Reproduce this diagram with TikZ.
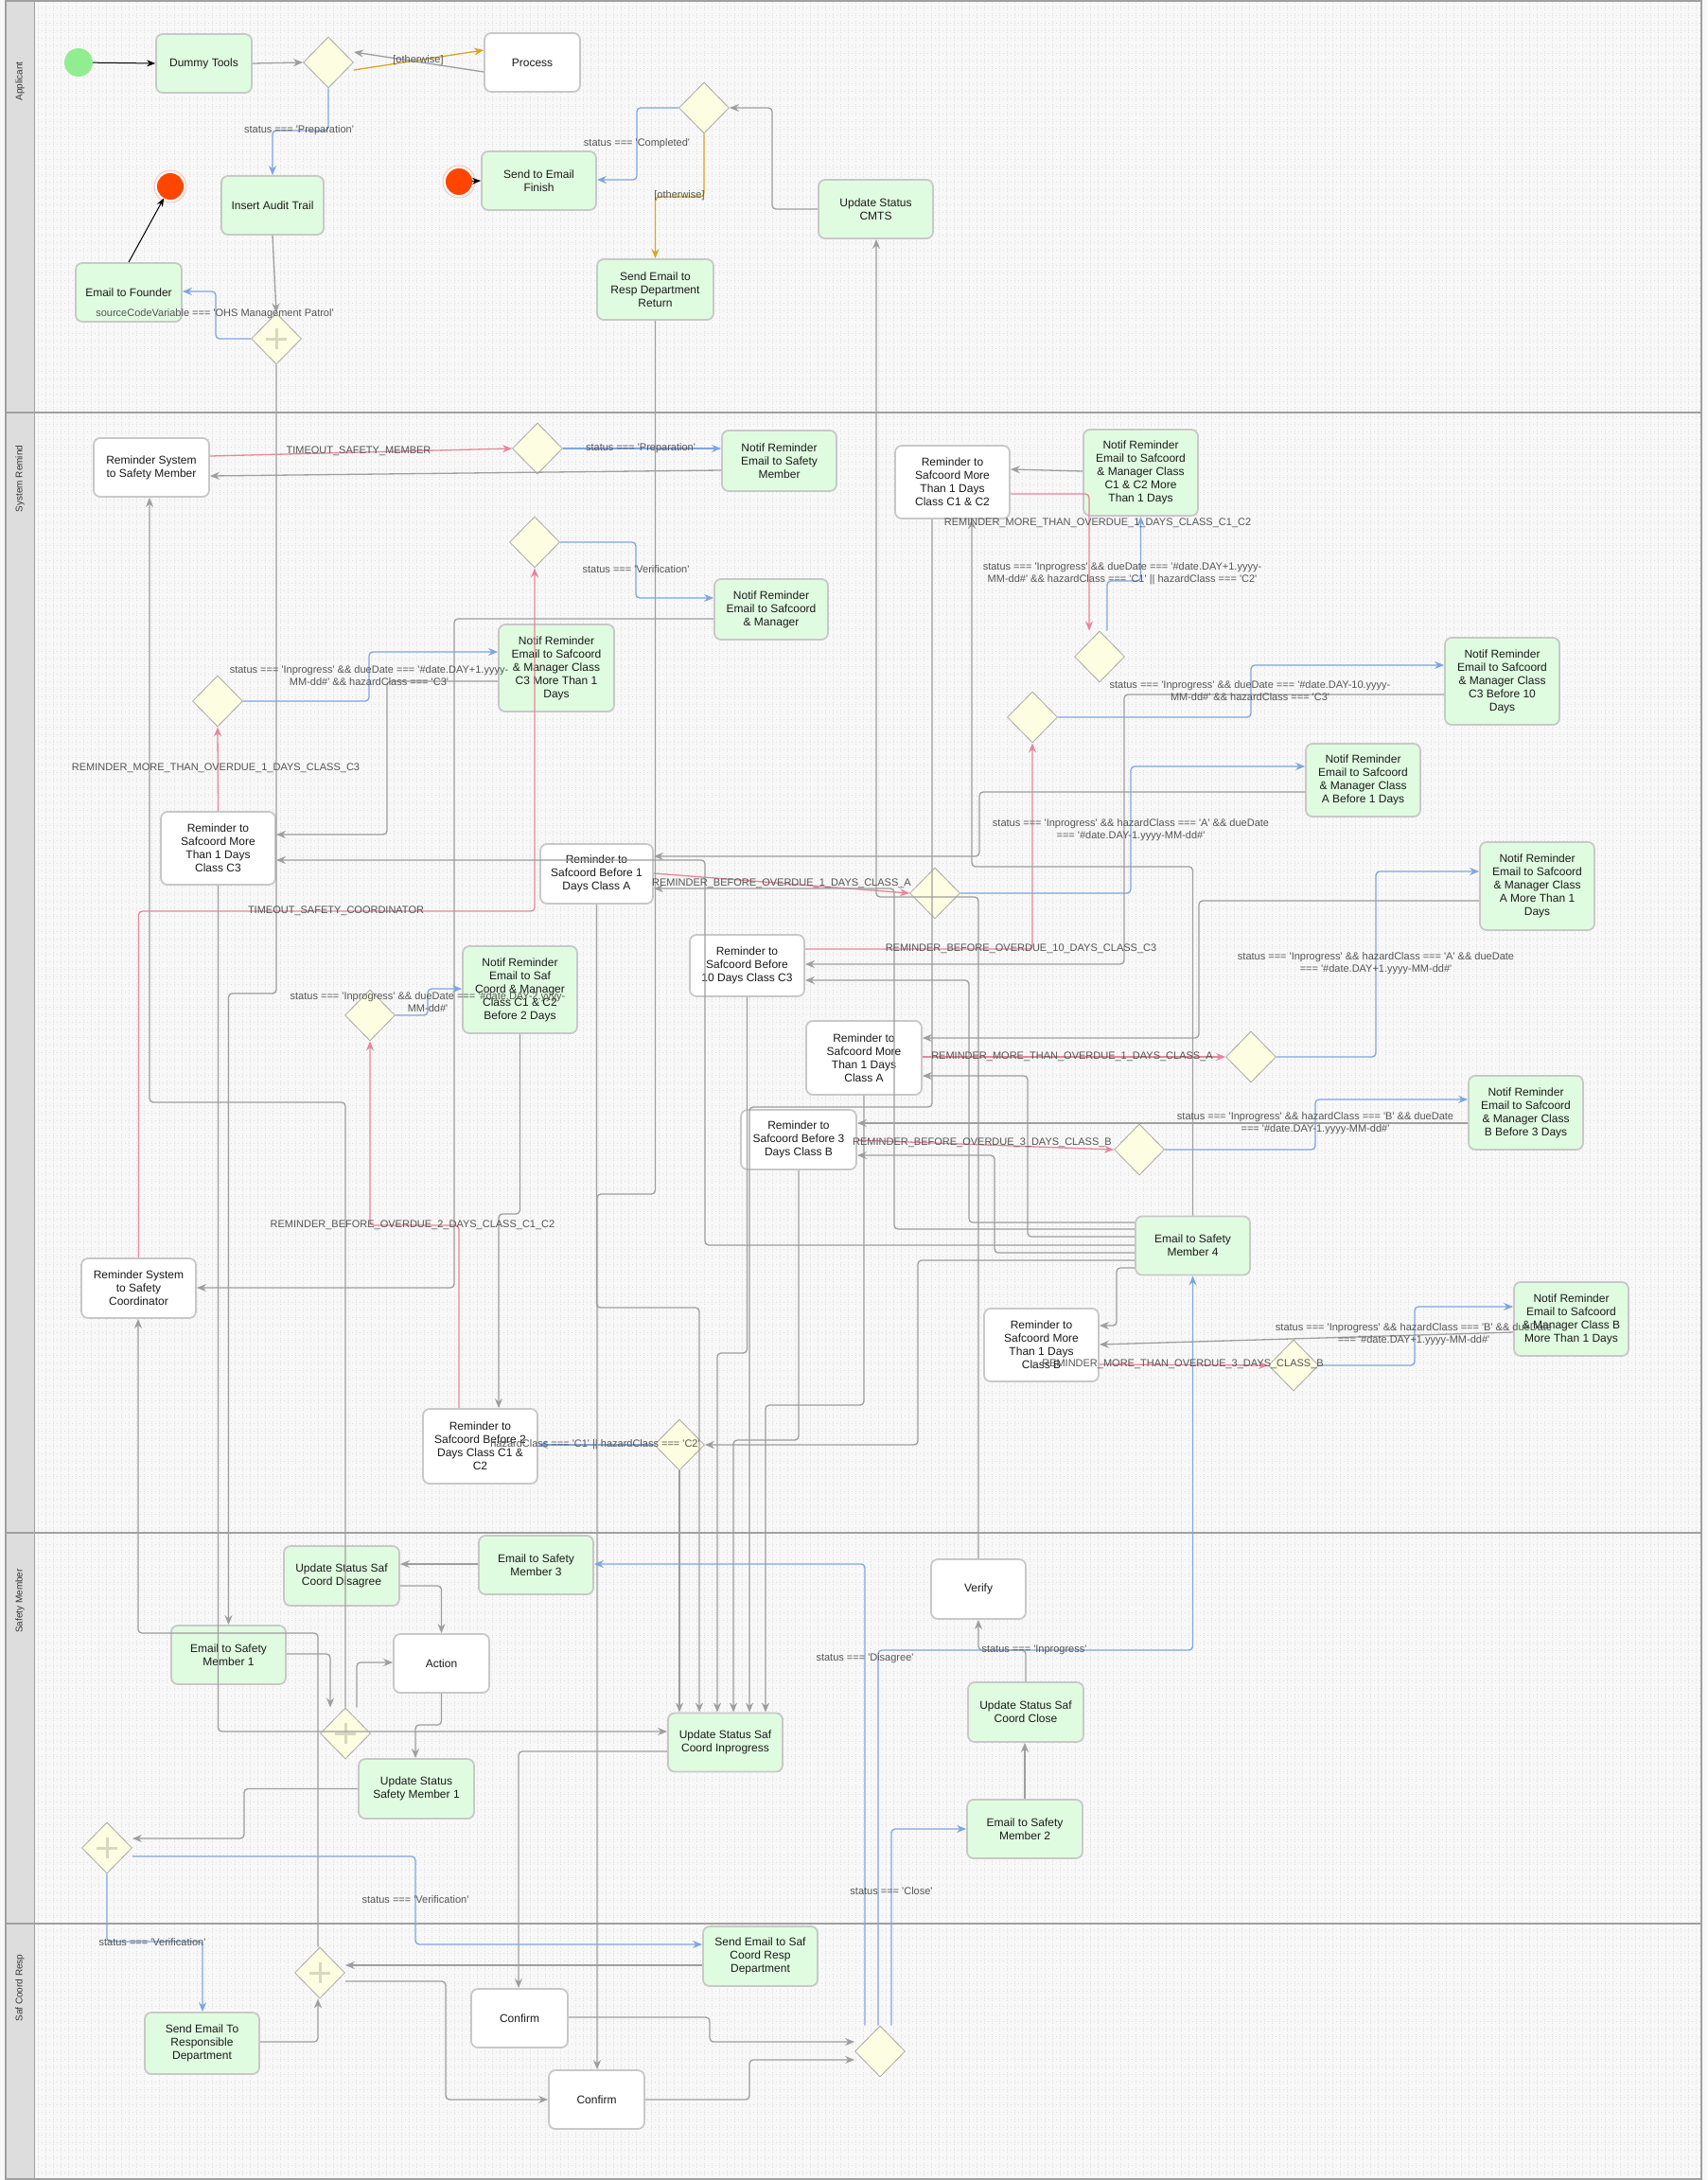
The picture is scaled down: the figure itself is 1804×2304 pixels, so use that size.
\documentclass[tikz,border=0pt]{standalone}
\usepackage{fontspec}
\setmainfont{Liberation Sans}[Ligatures=TeXOff]
\usetikzlibrary{shapes.geometric,arrows.meta}
\definecolor{bgc}{HTML}{F8F8F8}
\definecolor{gridc}{HTML}{DEDEDE}
\definecolor{hdr}{HTML}{DDDDDD}
\definecolor{lanec}{HTML}{A0A0A0}
\definecolor{greenf}{HTML}{E0FCE0}
\definecolor{bordc}{HTML}{C8C8C8}
\definecolor{yel}{HTML}{FDFDE1}
\definecolor{dbord}{HTML}{A8A8A8}
\definecolor{edgeg}{HTML}{9E9E9E}
\definecolor{blu}{HTML}{7EA6E0}
\definecolor{pnk}{HTML}{E8859A}
\definecolor{org}{HTML}{D9A520}
\definecolor{txt}{HTML}{1A1A1A}
\definecolor{lblc}{HTML}{555555}
\definecolor{startc}{HTML}{90EE90}
\definecolor{endc}{HTML}{FF4500}
\definecolor{ringc}{HTML}{F8C0B0}
\definecolor{plusc}{HTML}{D8D8C0}
\tikzset{
  box/.style={draw=bordc, line width=1.8pt, rounded corners=7pt, align=center,
    font=\fontsize{12pt}{14pt}\selectfont, text=txt, inner sep=2pt,
    minimum width=121pt, minimum height=62pt},
  gbox/.style={box, fill=greenf},
  wbox/.style={box, fill=white},
  gw/.style={diamond, draw=dbord, line width=0.8pt, fill=yel, minimum width=53pt,
    minimum height=54pt, inner sep=0pt},
  ge/.style={draw=edgeg, line width=1.3pt, rounded corners=4pt,
    -{Stealth[length=10pt,width=8pt]}},
  bl/.style={ge, draw=blu},
  pk/.style={ge, draw=pnk},
  oe/.style={ge, draw=org},
  be/.style={draw=black, line width=1pt, -{Stealth[length=9pt,width=7pt]}},
  lbl/.style={font=\fontsize{11pt}{13pt}\selectfont, text=lblc, align=center, inner sep=0pt},
  lane/.style={font=\fontsize{10pt}{12pt}\selectfont, text=black!80, rotate=90},
  endev/.style={circle, fill=endc, minimum size=28pt, inner sep=0pt},
}
\begin{document}
\begin{tikzpicture}[x=1pt,y=-1pt]
\useasboundingbox (0,0) rectangle (1804,2304);
\fill[bgc] (0,0) rectangle (1804,2304);
\draw[gridc, line width=0.6pt, dash pattern=on 0.6pt off 3.4pt, step=8pt] (36,1) grid (1798,2303);
% lanes
\fill[hdr] (6,1) rectangle (36,2303);
\draw[lanec, line width=1.5pt] (6,1) rectangle (1798,2303);
\draw[lanec, line width=1.5pt] (6,436) -- (1798,436);
\draw[lanec, line width=1.5pt] (6,1620) -- (1798,1620);
\draw[lanec, line width=1.5pt] (6,2033) -- (1798,2033);
\draw[lanec, line width=1pt] (36,1) -- (36,2303);
\node[lane] (laneA) at (21,86) {Applicant};
\node[lane] (laneB) at (21,506) {System Remind};
\node[lane] (laneC) at (21,1692) {Safety Member};
\node[lane] (laneD) at (21,2101) {Saf Coord Resp};

% ---------- Applicant ----------
\node[circle, fill=startc, minimum size=30pt, inner sep=0pt] (start) at (83,66) {};
\node[gbox, minimum width=101pt] (dummy) at (215.5,67) {Dummy Tools};
\node[gw] (gA1) at (347,66) {};
\node[wbox, minimum width=101pt] (process) at (562.5,66) {Process};
\node[gbox, minimum width=108pt] (audit) at (288,217) {Insert Audit Trail};
\node[endev] (endA) at (180,197) {};
\draw[ringc, line width=0.8pt] (endA) circle (17);
\node[gbox, minimum width=112pt] (founder) at (136,309) {Email to Founder};
\node[gw] (pgA) at (292,358) {};
\draw[plusc, line width=3pt] (pgA.center) ++(-11,0) -- ++(22,0) (pgA.center) ++(0,-11) -- ++(0,22);
\node[gbox] (finish) at (569.5,191) {Send to Email\\Finish};
\node[endev] (endB) at (485,192) {};
\draw[ringc, line width=0.8pt] (endB) circle (17);
\node[gw] (gA2) at (744,114) {};
\node[gbox, minimum width=123pt, minimum height=64pt] (respret) at (692.5,306) {Send Email to\\Resp Department\\Return};
\node[gbox] (cmts) at (925.5,221) {Update Status\\CMTS};

% ---------- System Remind ----------
\node[wbox, minimum width=122pt] (rsSM) at (160,494) {Reminder System\\to Safety Member};
\node[gw] (gSM) at (568,474) {};
\node[gbox, minimum height=64pt] (nSM) at (823.5,487) {Notif Reminder\\Email to Safety\\Member};
\node[gw] (gV) at (565,573) {};
\node[gbox, minimum width=120pt, minimum height=64pt] (nSCM) at (815,644) {Notif Reminder\\Email to Safcoord\\\& Manager};
\node[gw] (gC3) at (230,741) {};
\node[gbox, minimum width=122pt, minimum height=92pt] (nC3) at (588,706) {Notif Reminder\\Email to Safcoord\\\& Manager Class\\C3 More Than 1\\Days};
\node[wbox, minimum height=77pt] (rC3) at (230.5,896.5) {Reminder to\\Safcoord More\\Than 1 Days\\Class C3};
\node[wbox, minimum height=63pt] (rsSC) at (146.5,1361.5) {Reminder System\\to Safety\\Coordinator};
\node[wbox, minimum height=77pt] (rC12) at (1006.5,509.5) {Reminder to\\Safcoord More\\Than 1 Days\\Class C1 \& C2};
\node[gbox, minimum height=91pt] (nC12) at (1205.5,499.5) {Notif Reminder\\Email to Safcoord\\\& Manager Class\\C1 \& C2 More\\Than 1 Days};
\node[gw] (gC12) at (1162,694) {};
\node[gw] (g10) at (1091,758) {};
\node[gbox, minimum height=92pt] (n10) at (1587.5,720) {Notif Reminder\\Email to Safcoord\\\& Manager Class\\C3 Before 10\\Days};
\node[gbox, minimum height=77pt] (nA1) at (1440.5,824.5) {Notif Reminder\\Email to Safcoord\\\& Manager Class\\A Before 1 Days};
\node[wbox, minimum width=119pt, minimum height=63pt] (rA) at (630.5,923.5) {Reminder to\\Safcoord Before 1\\Days Class A};
\node[gw] (gA) at (988,944) {};
\node[wbox, minimum height=65pt] (r10) at (789.5,1020.5) {Reminder to\\Safcoord Before\\10 Days Class C3};
\node[gbox, minimum height=93pt] (nMA) at (1624.5,936.5) {Notif Reminder\\Email to Safcoord\\\& Manager Class\\A More Than 1\\Days};
\node[gw] (gMA) at (1322,1117) {};
\node[wbox, minimum width=122pt, minimum height=78pt] (rMA) at (913,1118) {Reminder to\\Safcoord More\\Than 1 Days\\Class A};
\node[gbox, minimum height=78pt] (nB3) at (1612.5,1176) {Notif Reminder\\Email to Safcoord\\\& Manager Class\\B Before 3 Days};
\node[gw] (gB3) at (1204,1215) {};
\node[wbox, minimum width=122pt, minimum height=63pt] (rB) at (844,1204.5) {Reminder to\\Safcoord Before 3\\Days Class B};
\node[gbox] (esm4) at (1260.5,1316.5) {Email to Safety\\Member 4};
\node[wbox, minimum height=77pt] (rMB) at (1100.5,1421.5) {Reminder to\\Safcoord More\\Than 1 Days\\Class B};
\node[gw] (gMB) at (1367,1443) {};
\node[gbox, minimum height=78pt] (nMB) at (1660.5,1394) {Notif Reminder\\Email to Safcoord\\\& Manager Class B\\More Than 1 Days};
\node[gw] (gC12a) at (391,1073) {};
\node[gbox, minimum height=92pt] (nC12a) at (549.5,1046) {Notif Reminder\\Email to Saf\\Coord \& Manager\\Class C1 \& C2\\Before 2 Days};
\node[wbox, minimum height=79pt] (r2) at (507.5,1528.5) {Reminder to\\Safcoord Before 2\\Days Class C1 \&\\C2};
\node[gw] (gC12b) at (718,1527) {};

% ---------- Safety Member ----------
\node[gbox, minimum width=122pt, minimum height=63pt] (disagree) at (361,1665.5) {Update Status Saf\\Coord Disagree};
\node[gbox] (esm3) at (566.5,1654) {Email to Safety\\Member 3};
\node[gbox] (esm1) at (241.5,1749) {Email to Safety\\Member 1};
\node[wbox, minimum width=101pt] (action) at (466.5,1758) {Action};
\node[gbox] (inprog) at (766.5,1841.5) {Update Status Saf\\Coord Inprogress};
\node[gbox, minimum width=122pt, minimum height=63pt] (usm1) at (440,1890.5) {Update Status\\Safety Member 1};
\node[gw] (pg3) at (365,1832) {};
\draw[plusc, line width=3pt] (pg3.center) ++(-11,0) -- ++(22,0) (pg3.center) ++(0,-11) -- ++(0,22);
\node[gw] (pg4) at (113,1953) {};
\draw[plusc, line width=3pt] (pg4.center) ++(-11,0) -- ++(22,0) (pg4.center) ++(0,-11) -- ++(0,22);
\node[wbox, minimum width=100pt, minimum height=63pt] (verify) at (1034,1679.5) {Verify};
\node[gbox, minimum width=122pt, minimum height=63pt] (close) at (1084,1809.5) {Update Status Saf\\Coord Close};
\node[gbox, minimum width=122pt] (esm2) at (1083,1933) {Email to Safety\\Member 2};

% ---------- Saf Coord Resp ----------
\node[gbox, minimum height=65pt] (serd) at (213.5,2159.5) {Send Email To\\Responsible\\Department};
\node[gbox, minimum height=63pt] (sesc) at (803.5,2067.5) {Send Email to Saf\\Coord Resp\\Department};
\node[gw] (pg2) at (338,2085) {};
\draw[plusc, line width=3pt] (pg2.center) ++(-11,0) -- ++(22,0) (pg2.center) ++(0,-11) -- ++(0,22);
\node[wbox, minimum width=102pt] (confA) at (549,2133) {Confirm};
\node[wbox, minimum width=101pt] (confB) at (630.5,2219) {Confirm};
\node[gw] (gfin) at (930,2168) {};

% ---------- connectors: Applicant ----------
\draw[be] (start) -- (dummy.west);
\draw[ge] (dummy.east) -- (gA1.west);
\draw[oe] (gA1.east |- 0,74) -- (process.west |- 0,53);
\draw[ge] (process.west |- 0,76) -- (gA1.east |- 0,55);
\draw[bl] (gA1.south) |- (288,138) -- (audit.north);
\draw[ge] (audit.south) -- (pgA.north);
\draw[bl] (pgA.west) -| (228,308) -- (founder.east |- 0,308);
\draw[ge] (pgA.south) |- (241.5,1050) -- (esm1.north);
\draw[be] (founder.north) -- (endA);
\draw[be] (endB) -- (finish.west);
\draw[bl] (gA2.west) -| (673,190) -- (finish.east |- 0,190);
\draw[oe] (gA2.south) |- (692.5,208) -- (respret.north);
\draw[ge] (cmts.west) -| (816,114) -- (gA2.east);

% ---------- connectors: System Remind ----------
\draw[pk] (rsSM.east |- 0,482) -- (gSM.west);
\draw[bl] (gSM.east) -- (nSM.west |- 0,474);
\draw[ge] (nSM.west |- 0,497) -- (rsSM.east |- 0,503);
\draw[pk] (rsSC.north) |- (565,963) -- (gV.south);
\draw[bl] (gV.east) -| (672,632) -- (nSCM.west |- 0,632);
\draw[ge] (nSCM.west |- 0,654) -| (480,1361) -- (rsSC.east |- 0,1361);
\draw[pk] (rC3.north) -- (gC3.south);
\draw[bl] (gC3.east) -| (390,689) -- (nC3.west |- 0,689);
\draw[ge] (nC3.west |- 0,720) -| (409,882) -- (rC3.east |- 0,882);
\draw[pk] (rC12.east |- 0,522) -| (gC12.north -| 1151,0);
\draw[bl] (gC12.north -| 1170,0) |- (1205.5,614) -- (nC12.south);
\draw[ge] (nC12.west |- 0,498) -- (rC12.east |- 0,496);
\draw[pk] (r10.east |- 0,1003) -| (g10.south);
\draw[bl] (g10.east) -| (1322,703) -- (n10.west |- 0,703);
\draw[ge] (n10.west |- 0,734) -| (1188,1019) -- (r10.east |- 0,1019);
\draw[pk] (rA.east |- 0,923) -- (gA.west);
\draw[bl] (gA.east) -| (1195,810) -- (nA1.west |- 0,810);
\draw[ge] (nA1.west |- 0,837) -| (1035,905) -- (rA.east |- 0,905);
\draw[pk] (rMA.east |- 0,1117) -- (gMA.west);
\draw[bl] (gMA.east) -| (1454,921) -- (nMA.west |- 0,921);
\draw[ge] (nMA.west |- 0,952) -| (1267,1097) -- (rMA.east |- 0,1097);
\draw[pk] (rB.east |- 0,1205) -- (gB3.west);
\draw[bl] (gB3.east) -| (1390,1162) -- (nB3.west |- 0,1162);
\draw[ge] (nB3.west |- 0,1187) -- (rB.east |- 0,1187);
\draw[pk] (rMB.east |- 0,1442) -- (gMB.west);
\draw[bl] (gMB.east) -| (1495,1381) -- (nMB.west |- 0,1381);
\draw[ge] (nMB.west |- 0,1408) -- (rMB.east |- 0,1421);
\draw[pk] (r2.north -| 485,0) |- (391,1295) -- (gC12a.south);
\draw[bl] (gC12a.east) -| (452,1045) -- (nC12a.west |- 0,1045);
\draw[ge] (nC12a.south) |- (527,1283) -- (r2.north -| 527,0);
\draw[bl] (gC12b.west) -- (r2.east |- 0,1527);
\draw[ge] (esm4.west |- 0,1332) -| (970,1527) -- (gC12b.east);
\draw[ge] (gC12b.south) -- (gC12b.south |- inprog.north);
\draw[ge] (esm4.west |- 0,1316) -| (745,909) -- (rC3.east |- 0,909);
\draw[ge] (esm4.north) |- (1027,916) -- (rC12.south -| 1027,0);
\draw[ge] (esm4.west |- 0,1292) -| (1024,1036) -- (r10.east |- 0,1036);
\draw[ge] (esm4.west |- 0,1299) -| (945,939) -- (rA.east |- 0,939);
\draw[ge] (esm4.west |- 0,1307) -| (1086,1137) -- (rMA.east |- 0,1137);
\draw[ge] (esm4.west |- 0,1324) -| (1051,1221) -- (rB.east |- 0,1221);
\draw[ge] (esm4.west |- 0,1340) -| (1180,1401) -- (rMB.east |- 0,1401);
\draw[ge] (rA.south) |- (739,1382) -- (inprog.north -| 739,0);
\draw[ge] (r10.south) |- (758,1430) -- (inprog.north -| 758,0);
\draw[ge] (rB.south) |- (775,1522) -- (inprog.north -| 775,0);
\draw[ge] (rC12.south -| 985,0) |- (792,1170) -- (inprog.north -| 792,0);
\draw[ge] (rMA.south) |- (809,1485) -- (inprog.north -| 809,0);
\draw[ge] (rC3.south) |- (inprog.west |- 0,1830);
\draw[ge] (respret.south) |- (631,1262) -- (confB.north -| 631,0);
\draw[ge] (pg3.north) |- (158,1165) -- (rsSM.south -| 158,0);
\draw[ge] (pg2.north -| 336,0) |- (146,1726) -- (rsSC.south -| 146,0);
\draw[ge] (verify.north) |- (926,948) -- (cmts.south -| 926,0);

% ---------- connectors: Safety Member ----------
\draw[ge] (esm3.west |- 0,1653) -- (disagree.east |- 0,1653);
\draw[ge] (disagree.east |- 0,1676) -| (action.north);
\draw[ge] (action.south) |- (439,1823) -- (usm1.north -| 439,0);
\draw[ge] (usm1.west) -| (258,1943) -- (pg4.east |- 0,1943);
\draw[ge] (esm1.east |- 0,1748) -| (pg3.north -| 349,0);
\draw[ge] (pg3.north -| 377,0) |- (action.west |- 0,1757);
\draw[ge] (esm2.north) -- (esm2.north |- close.south);
\draw[ge] (close.north) |- (1034,1744) -- (verify.south);
\draw[bl] (gfin.north -| 928,0) |- (1260.5,1744) -- (esm4.south);
\draw[bl] (gfin.north -| 914,0) |- (esm3.east |- 0,1653);
\draw[bl] (gfin.north -| 942,0) |- (esm2.west |- 0,1933);

% ---------- connectors: Saf Coord Resp ----------
\draw[bl] (pg4.south) |- (214,2052) -- (serd.north -| 214,0);
\draw[bl] (pg4.east |- 0,1962) -| (439,2055) -- (sesc.west |- 0,2055);
\draw[ge] (sesc.west |- 0,2077) -- (pg2.east |- 0,2077);
\draw[ge] (serd.east |- 0,2158) -| (pg2.south -| 336,0);
\draw[ge] (pg2.east |- 0,2094) -| (471,2219) -- (confB.west |- 0,2219);
\draw[ge] (inprog.west |- 0,1851) -| (confA.north -| 548,0);
\draw[ge] (confA.east |- 0,2132) -| (750,2158) -- (gfin.west |- 0,2158);
\draw[ge] (confB.east |- 0,2219) -| (792,2177) -- (gfin.west |- 0,2177);

% ---------- labels ----------
\node[lbl] (l1) at (316,138) {status === 'Preparation'};
\node[lbl] (l2) at (442,64) {[otherwise]};
\node[lbl] (l3) at (227,332) {sourceCodeVariable === 'OHS Management Patrol'};
\node[lbl] (l4) at (673,152) {status === 'Completed'};
\node[lbl] (l5) at (718,207) {[otherwise]};
\node[lbl] (l6) at (379,477) {TIMEOUT\_SAFETY\_MEMBER};
\node[lbl] (l7) at (677,474) {status === 'Preparation'};
\node[lbl] (l8) at (672,602) {status === 'Verification'};
\node[lbl] (l9) at (355,963) {TIMEOUT\_SAFETY\_COORDINATOR};
\node[lbl] (l10) at (390,714) {status === 'Inprogress' \&\& dueDate === '\#date.DAY+1.yyyy-\\MM-dd\#' \&\& hazardClass === 'C3'};
\node[lbl] (l11) at (228,812) {REMINDER\_MORE\_THAN\_OVERDUE\_1\_DAYS\_CLASS\_C3};
\node[lbl] (l12) at (1160,553) {REMINDER\_MORE\_THAN\_OVERDUE\_1\_DAYS\_CLASS\_C1\_C2};
\node[lbl] (l13) at (1186,606) {status === 'Inprogress' \&\& dueDate === '\#date.DAY+1.yyyy-\\MM-dd\#' \&\& hazardClass === 'C1' || hazardClass === 'C2'};
\node[lbl] (l14) at (1321,730) {status === 'Inprogress' \&\& dueDate === '\#date.DAY-10.yyyy-\\MM-dd\#' \&\& hazardClass === 'C3'};
\node[lbl] (l15) at (826,934) {REMINDER\_BEFORE\_OVERDUE\_1\_DAYS\_CLASS\_A};
\node[lbl] (l16) at (1195,877) {status === 'Inprogress' \&\& hazardClass === 'A' \&\& dueDate\\=== '\#date.DAY-1.yyyy-MM-dd\#'};
\node[lbl] (l17) at (1079,1003) {REMINDER\_BEFORE\_OVERDUE\_10\_DAYS\_CLASS\_C3};
\node[lbl] (l18) at (1454,1018) {status === 'Inprogress' \&\& hazardClass === 'A' \&\& dueDate\\=== '\#date.DAY+1.yyyy-MM-dd\#'};
\node[lbl] (l19) at (1133,1117) {REMINDER\_MORE\_THAN\_OVERDUE\_1\_DAYS\_CLASS\_A};
\node[lbl] (l20) at (1390,1187) {status === 'Inprogress' \&\& hazardClass === 'B' \&\& dueDate\\=== '\#date.DAY-1.yyyy-MM-dd\#'};
\node[lbl] (l21) at (1038,1208) {REMINDER\_BEFORE\_OVERDUE\_3\_DAYS\_CLASS\_B};
\node[lbl] (l22) at (452,1059) {status === 'Inprogress' \&\& dueDate === '\#date.DAY-2.yyyy-\\MM-dd\#'};
\node[lbl] (l23) at (436,1295) {REMINDER\_BEFORE\_OVERDUE\_2\_DAYS\_CLASS\_C1\_C2};
\node[lbl] (l24) at (1494,1410) {status === 'Inprogress' \&\& hazardClass === 'B' \&\& dueDate\\=== '\#date.DAY+1.yyyy-MM-dd\#'};
\node[lbl] (l25) at (1250,1442) {REMINDER\_MORE\_THAN\_OVERDUE\_3\_DAYS\_CLASS\_B};
\node[lbl] (l26) at (629,1527) {hazardClass === 'C1' || hazardClass === 'C2'};
\node[lbl] (l27) at (914,1753) {status === 'Disagree'};
\node[lbl] (l28) at (1093,1744) {status === 'Inprogress'};
\node[lbl] (l29) at (439,2008) {status === 'Verification'};
\node[lbl] (l30) at (942,1999) {status === 'Close'};
\node[lbl] (l31) at (161,2053) {status === 'Verification'};
\end{tikzpicture}
\end{document}
